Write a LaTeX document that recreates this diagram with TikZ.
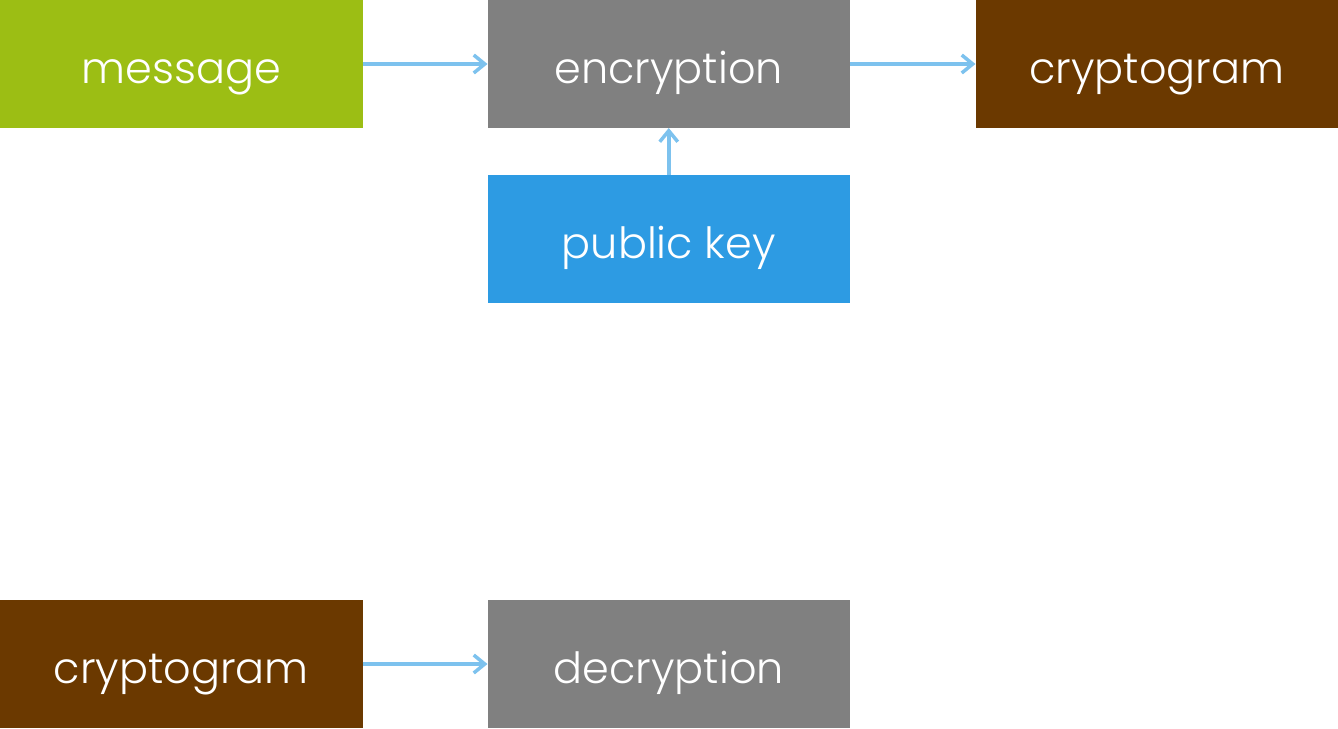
\documentclass[tikz,border=0pt]{standalone}
\usepackage{fontspec}
\setmainfont{Poppins}[UprightFont={* Light}]
\usetikzlibrary{arrows.meta}
\definecolor{msggreen}{HTML}{9CBE14}
\definecolor{stepgray}{HTML}{808080}
\definecolor{cryptbrown}{HTML}{6B3900}
\definecolor{keyblue}{HTML}{2D9BE3}
\definecolor{arrowblue}{HTML}{7DC2EE}
\begin{document}
\begin{tikzpicture}[x=1pt,y=-1pt,
  box/.style={anchor=north west, inner sep=0pt, outer sep=0pt,
    minimum width=362.5pt, minimum height=128pt, text=white,
    text height=48pt, text depth=10pt,
    font=\fontsize{43}{48}\selectfont},
  link/.style={draw=arrowblue, line width=3.5pt,
    -{Straight Barb[length=11pt,width=18pt,line width=3.5pt]}}]
  \useasboundingbox (0,0) rectangle (1338,728);
  \node[box, fill=msggreen]   (msg)  at (0,0)     {message};
  \node[box, fill=stepgray]   (enc)  at (487.5,0) {encryption};
  \node[box, fill=cryptbrown] (ct1)  at (975.5,0) {cryptogram};
  \node[box, fill=keyblue]    (pub)  at (487.5,175) {public key};
  \node[box, fill=cryptbrown] (ct2)  at (0,600)   {cryptogram};
  \node[box, fill=stepgray]   (dec)  at (487.5,600) {decryption};
  \draw[link] (msg.east) -- (enc.west);
  \draw[link] (enc.east) -- (ct1.west);
  \draw[link] (pub.north) -- (enc.south);
  \draw[link] (ct2.east) -- (dec.west);
\end{tikzpicture}
\end{document}
